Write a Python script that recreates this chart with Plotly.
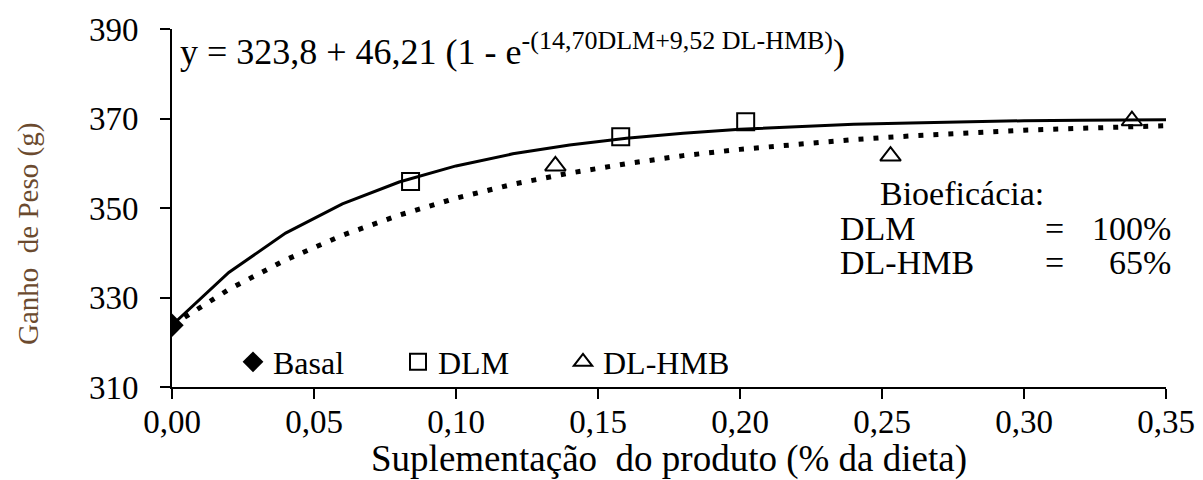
import plotly.graph_objects as go

# Supplement level (% of diet) used to trace the fitted response curves
curve_x = [0.00, 0.02, 0.04, 0.06, 0.08, 0.10, 0.12, 0.14, 0.16, 0.18,
           0.20, 0.22, 0.24, 0.26, 0.28, 0.30, 0.32, 0.34, 0.35]
# Fitted weight gain (g) for DLM (solid) and DL-HMB (dotted)
curve_dlm = [323.8, 335.6, 344.4, 350.9, 355.8, 359.4, 362.1, 364.1, 365.6, 366.7,
             367.6, 368.2, 368.7, 369.0, 369.3, 369.5, 369.6, 369.7, 369.7]
curve_hmb = [323.8, 331.8, 338.4, 343.9, 348.4, 352.2, 355.3, 357.8, 359.9, 361.7,
             363.1, 364.3, 365.3, 366.1, 366.8, 367.4, 367.8, 368.2, 368.4]

# Observed means
basal_x = [0.0]
basal_y = [323.8]
dlm_x = [0.084, 0.158, 0.202]
dlm_y = [355.9, 365.9, 369.3]
hmb_x = [0.135, 0.253, 0.338]
hmb_y = [359.4, 361.6, 369.5]

x_ticks = [0.00, 0.05, 0.10, 0.15, 0.20, 0.25, 0.30, 0.35]
y_ticks = [310, 330, 350, 370, 390]

W, H = 1203, 480
ML, MR, MT, MB = 172, 37, 29, 93
FONT = "Liberation Serif"
TXT = 34


def px(x):
    return (x - ML) / (W - ML - MR)


def py(y):
    return (H - MB - y) / (H - MT - MB)


fig = go.Figure()

fig.add_trace(go.Scatter(x=curve_x, y=curve_dlm, mode="lines",
                         line=dict(color="black", width=3),
                         showlegend=False, hoverinfo="skip"))
fig.add_trace(go.Scatter(x=curve_x, y=curve_hmb, mode="lines",
                         line=dict(color="black", width=5, dash="5px,10px"),
                         showlegend=False, hoverinfo="skip"))

fig.add_trace(go.Scatter(x=basal_x, y=basal_y, mode="markers", name="Basal",
                         marker=dict(symbol="diamond", size=18, color="black",
                                     line=dict(width=0))))
fig.add_trace(go.Scatter(x=dlm_x, y=dlm_y, mode="markers", name="DLM",
                         marker=dict(symbol="square-open", size=17, color="black",
                                     line=dict(width=2, color="black"))))
fig.add_trace(go.Scatter(x=hmb_x, y=hmb_y, mode="markers", name="DL-HMB",
                         marker=dict(symbol="triangle-up-open", size=18, color="black",
                                     line=dict(width=2, color="black"))))

equation = ("y = 323,8 + 46,21 (1 - e<sup><span style=\"font-size:26px\">"
            "-(14,70DLM+9,52 DL-HMB)</span></sup>)")

annotations = [
    dict(text=equation, x=px(178), y=py(49), xanchor="left", yanchor="middle",
         font=dict(size=36)),
    dict(text="Bioeficácia:", x=px(878), y=py(193), xanchor="left", yanchor="middle",
         font=dict(size=TXT)),
    dict(text="DLM", x=px(838), y=py(228), xanchor="left", yanchor="middle",
         font=dict(size=TXT)),
    dict(text="=", x=px(1043), y=py(228), xanchor="left", yanchor="middle",
         font=dict(size=TXT)),
    dict(text="100%", x=px(1173), y=py(228), xanchor="right", yanchor="middle",
         font=dict(size=TXT)),
    dict(text="DL-HMB", x=px(838), y=py(262), xanchor="left", yanchor="middle",
         font=dict(size=TXT)),
    dict(text="=", x=px(1043), y=py(262), xanchor="left", yanchor="middle",
         font=dict(size=TXT)),
    dict(text="65%", x=px(1173), y=py(262), xanchor="right", yanchor="middle",
         font=dict(size=TXT)),
    dict(text="Ganho\u00a0 de Peso (g)", x=px(28), y=py(234), xanchor="center",
         yanchor="middle", textangle=-90, font=dict(size=29, color="#6b4a2e")),
]
for a in annotations:
    a.update(xref="paper", yref="paper", showarrow=False)
    a["font"].setdefault("color", "black")
    a["font"]["family"] = FONT

fig.update_layout(
    width=W, height=H,
    margin=dict(l=ML, r=MR, t=MT, b=MB, autoexpand=False),
    paper_bgcolor="white", plot_bgcolor="white",
    separators=",.",
    font=dict(family=FONT, color="black", size=30),
    annotations=annotations,
    legend=dict(orientation="h", x=px(233), y=py(362), xanchor="left",
                yanchor="middle", bgcolor="rgba(0,0,0,0)",
                font=dict(family=FONT, size=32, color="black"),
                entrywidth=120, entrywidthmode="pixels",
                itemclick=False, itemdoubleclick=False),
    xaxis=dict(range=[0, 0.35], tickvals=x_ticks, tickformat=".2f",
               showgrid=False, zeroline=False, showline=True,
               linecolor="black", linewidth=2, ticks="outside",
               ticklen=10, tickwidth=2, tickcolor="black",
               ticklabelstandoff=-6,
               tickfont=dict(size=33, family=FONT, color="black"),
               title=dict(text="Suplementação\u00a0 do produto (% da dieta)",
                          font=dict(size=37, family=FONT, color="black"),
                          standoff=4)),
    yaxis=dict(range=[310, 390], tickvals=y_ticks,
               showgrid=False, zeroline=False, showline=True,
               linecolor="black", linewidth=2, ticks="outside",
               ticklen=10, tickwidth=2, tickcolor="black",
               ticklabelstandoff=15,
               tickfont=dict(size=33, family=FONT, color="black")),
)

fig.write_html("out.html")
